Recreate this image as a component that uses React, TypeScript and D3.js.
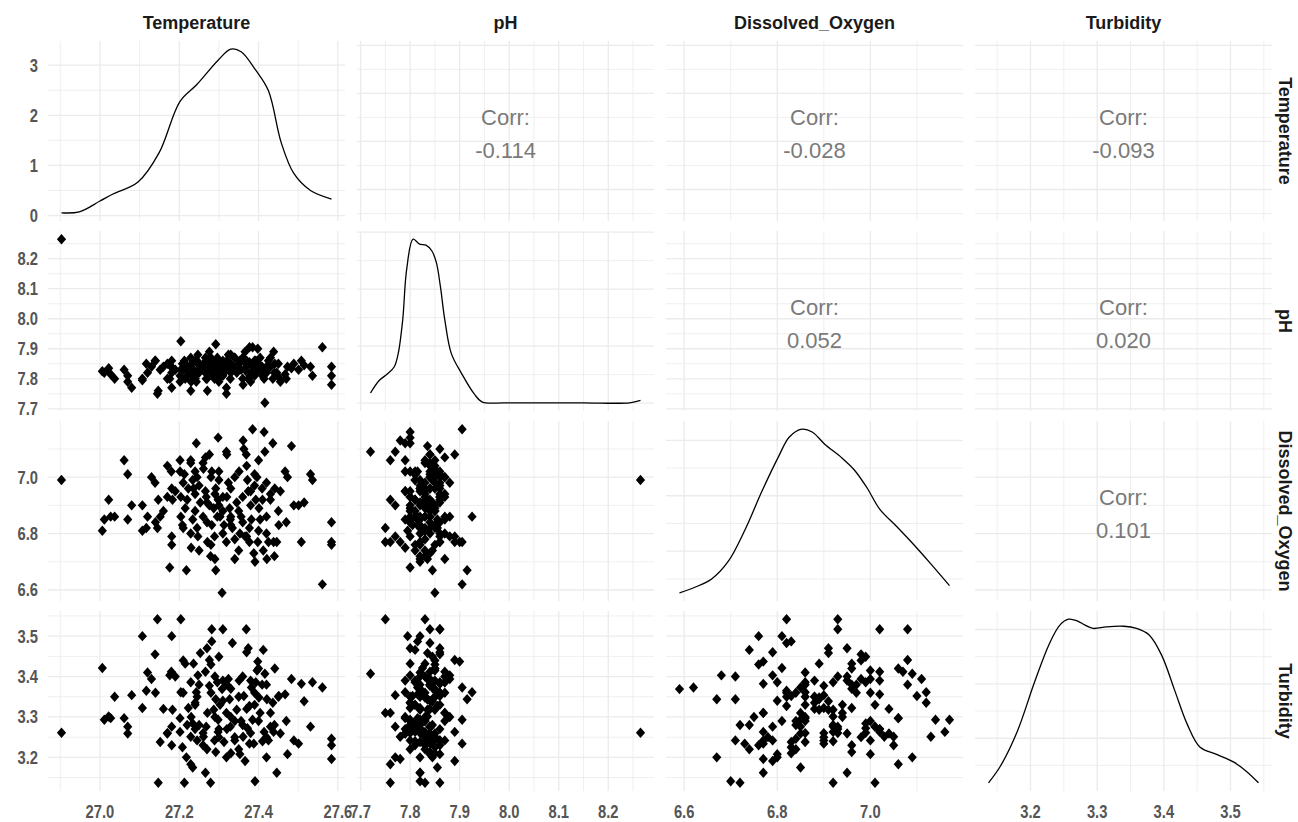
import React, { useRef, useEffect } from 'react';
import * as d3 from 'd3';

const variables = ['Temperature', 'pH', 'Dissolved_Oxygen', 'Turbidity'];

const temperature = [
  26.903, 27.006, 27.011, 27.022, 27.027, 27.037, 27.061, 27.07, 27.07, 27.08,
  27.107, 27.107, 27.117, 27.13, 27.139, 27.145, 27.147, 27.152, 27.17, 27.176,
  27.18, 27.181, 27.181, 27.181, 27.183, 27.202, 27.202, 27.204, 27.204, 27.208,
  27.213, 27.215, 27.218, 27.223, 27.229, 27.229, 27.229, 27.234, 27.234, 27.236,
  27.24, 27.243, 27.245, 27.245, 27.247, 27.25, 27.253, 27.261, 27.266, 27.266,
  27.268, 27.271, 27.276, 27.276, 27.279, 27.282, 27.282, 27.287, 27.289, 27.292,
  27.292, 27.296, 27.298, 27.298, 27.3, 27.303, 27.308, 27.31, 27.313, 27.319,
  27.319, 27.324, 27.327, 27.329, 27.334, 27.34, 27.345, 27.351, 27.353, 27.356,
  27.361, 27.363, 27.366, 27.369, 27.372, 27.374, 27.377, 27.377, 27.382, 27.385,
  27.388, 27.391, 27.393, 27.396, 27.398, 27.401, 27.404, 27.409, 27.412, 27.414,
  27.416, 27.42, 27.421, 27.425, 27.43, 27.436, 27.438, 27.441, 27.446, 27.451,
  27.455, 27.467, 27.473, 27.483, 27.489, 27.501, 27.508, 27.515, 27.531, 27.536,
  27.561, 27.584, 27.584, 27.584,
  27.19, 27.21, 27.22, 27.24, 27.25, 27.26, 27.27, 27.28, 27.29, 27.3,
  27.31, 27.31, 27.32, 27.33, 27.33, 27.34, 27.35, 27.36, 27.36, 27.37,
  27.38, 27.39, 27.4, 27.4, 27.41, 27.42, 27.43, 27.44, 27.45, 27.47,
  27.16, 27.17, 27.14, 27.12, 27.23, 27.26, 27.28, 27.3, 27.32, 27.35,
  27.37, 27.39, 27.34, 27.27, 27.21, 27.24, 27.29, 27.33, 27.38, 27.42
];

const ph = [
  8.265,
  7.825, 7.82, 7.835, 7.815, 7.8,
  7.83, 7.81, 7.79, 7.77,
  7.8, 7.795, 7.85, 7.84, 7.86, 7.75, 7.76, 7.83,
  7.85, 7.8, 7.84, 7.77, 7.82, 7.86, 7.835,
  7.79, 7.81, 7.83, 7.925, 7.85, 7.86, 7.8, 7.845, 7.82,
  7.76, 7.84, 7.87, 7.81, 7.855, 7.83, 7.8, 7.79, 7.86, 7.82, 7.88, 7.845, 7.835,
  7.85, 7.87, 7.82, 7.8, 7.76, 7.89, 7.84, 7.83, 7.86, 7.815, 7.85, 7.8, 7.84, 7.915, 7.87,
  7.8, 7.83, 7.845, 7.81, 7.85, 7.86, 7.82, 7.77, 7.75, 7.88, 7.835, 7.8, 7.84,
  7.87, 7.82, 7.85, 7.86, 7.83, 7.78, 7.86, 7.89, 7.84, 7.82, 7.8, 7.855, 7.905, 7.815, 7.905,
  7.84, 7.82, 7.86, 7.85, 7.9, 7.83, 7.87, 7.84, 7.81, 7.8, 7.72, 7.82, 7.835, 7.86, 7.84,
  7.8, 7.89, 7.85, 7.82, 7.805, 7.79, 7.815, 7.84,
  7.835, 7.85, 7.83, 7.86, 7.845, 7.84, 7.81,
  7.905,
  7.84, 7.81, 7.78,
  7.83, 7.85, 7.81, 7.86, 7.82, 7.84, 7.8, 7.87, 7.83, 7.85,
  7.81, 7.84, 7.86, 7.82, 7.88, 7.83, 7.85, 7.8, 7.87, 7.84,
  7.82, 7.86, 7.83, 7.85, 7.81, 7.84, 7.87, 7.82, 7.85, 7.8,
  7.84, 7.8, 7.86, 7.82, 7.79, 7.83, 7.85, 7.79, 7.84, 7.83,
  7.86, 7.81, 7.87, 7.86, 7.83, 7.8, 7.82, 7.85, 7.79, 7.83
];

const dissolvedOxygen = [
  6.99, 6.81, 6.85, 6.92, 6.86, 6.86, 7.06, 7.01, 6.85, 6.9,
  6.9, 6.81, 6.82, 7.0, 6.98, 6.82, 6.92, 6.86, 7.04, 6.68,
  7.02, 6.79, 6.76, 6.96, 6.92, 7.06, 7.02, 6.93, 6.86, 6.83,
  7.01, 6.89, 6.67, 6.96, 7.06, 7.05, 6.8, 6.99, 6.85, 6.96,
  6.88, 7.12, 7.0, 6.82, 6.79, 6.74, 6.91, 7.03, 7.07, 6.95,
  6.93, 6.77, 7.08, 6.9, 6.72, 7.02, 6.83, 6.89, 6.79, 6.96,
  6.67, 6.86, 7.14, 6.92, 6.99, 6.86, 6.59, 6.93, 6.83, 7.09,
  6.77, 6.98, 6.89, 6.85, 6.82, 6.71, 6.91, 7.02, 6.8, 6.86,
  7.13, 7.1, 6.79, 7.08, 6.99, 6.95, 6.82, 6.77, 6.85, 7.17,
  6.73, 6.7, 6.92, 7.0, 6.77, 6.89, 6.85, 6.96, 6.74, 7.16,
  7.09, 6.8, 6.71, 6.77, 6.92, 7.12, 6.77, 6.96, 6.77, 6.83,
  6.95, 7.02, 7.0, 7.11, 6.9, 6.9, 6.77, 6.91, 7.01, 6.99,
  6.62, 6.84, 6.76, 6.77,
  6.95, 6.98, 6.92, 6.94, 6.97, 6.86, 6.84, 7.0, 6.94, 6.9,
  6.88, 6.8, 6.93, 6.96, 6.86, 6.78, 6.88, 6.84, 6.93, 7.04,
  6.9, 6.97, 6.81, 7.06, 6.92, 6.86, 6.94, 6.72, 6.88, 6.84,
  6.88, 6.93, 6.84, 6.86, 6.75, 7.05, 6.76, 7.02, 7.08, 6.74,
  6.79, 7.01, 7.0, 6.91, 6.82, 7.02, 6.71, 6.83, 6.95, 6.98
];

const turbidity = [
  3.261, 3.421, 3.293, 3.301, 3.297, 3.35, 3.297, 3.276, 3.259, 3.354,
  3.322, 3.5, 3.365, 3.394, 3.455, 3.542, 3.137, 3.238, 3.259, 3.403,
  3.412, 3.276, 3.5, 3.23, 3.318, 3.297, 3.263, 3.542, 3.361, 3.225,
  3.137, 3.432, 3.2, 3.322, 3.183, 3.251, 3.386, 3.284, 3.175, 3.432,
  3.335, 3.361, 3.242, 3.35, 3.403, 3.28, 3.458, 3.251, 3.412, 3.162,
  3.276, 3.31, 3.441, 3.377, 3.137, 3.517, 3.487, 3.318, 3.242, 3.213,
  3.344, 3.386, 3.293, 3.263, 3.449, 3.33, 3.369, 3.517, 3.238, 3.2,
  3.31, 3.394, 3.344, 3.276, 3.483, 3.242, 3.318, 3.39, 3.208, 3.29,
  3.251, 3.352, 3.191, 3.517, 3.272, 3.47, 3.327, 3.234, 3.373, 3.293,
  3.234, 3.141, 3.386, 3.415, 3.437, 3.348, 3.31, 3.38, 3.466, 3.263,
  3.407, 3.2, 3.344, 3.242, 3.276, 3.335, 3.263, 3.42, 3.162, 3.352,
  3.259, 3.356, 3.208, 3.394, 3.242, 3.234, 3.382, 3.339, 3.276, 3.386,
  3.373, 3.246, 3.23, 3.196,
  3.4, 3.44, 3.28, 3.33, 3.38, 3.26, 3.22, 3.36, 3.3, 3.25,
  3.39, 3.34, 3.27, 3.37, 3.3, 3.25, 3.35, 3.28, 3.4, 3.32,
  3.26, 3.36, 3.29, 3.42, 3.24, 3.38, 3.31, 3.28, 3.35, 3.29,
  3.32, 3.26, 3.36, 3.41, 3.3, 3.23, 3.43, 3.27, 3.38, 3.22,
  3.46, 3.33, 3.29, 3.47, 3.36, 3.27, 3.4, 3.21, 3.39, 3.25
];

// diagonal density curves
const tempDensityX = [26.903, 26.948, 27.0, 27.033, 27.096, 27.149, 27.202, 27.245, 27.298, 27.33, 27.356, 27.393, 27.425, 27.457, 27.489, 27.531, 27.584];
const tempDensityY = [0.055, 0.075, 0.29, 0.43, 0.67, 1.25, 2.28, 2.62, 3.1, 3.32, 3.27, 2.9, 2.49, 1.46, 0.84, 0.5, 0.33];

const phDensityX = [7.72, 7.738, 7.755, 7.768, 7.776, 7.785, 7.793, 7.806, 7.819, 7.832, 7.844, 7.853, 7.861, 7.87, 7.883, 7.904, 7.929, 7.946, 7.989, 8.05, 8.15, 8.243, 8.265];
const phDensityY = [0.71, 1.6, 2.07, 2.55, 3.49, 5.84, 9.38, 11.5, 11.15, 11.08, 10.67, 9.85, 8.2, 5.84, 3.49, 2.07, 0.66, 0.07, 0.02, 0.02, 0.02, 0.02, 0.19];

const doDensityX = [6.59, 6.623, 6.659, 6.695, 6.731, 6.767, 6.803, 6.826, 6.853, 6.875, 6.902, 6.939, 6.966, 6.993, 7.02, 7.056, 7.092, 7.128, 7.17];
const doDensityY = [0.25, 0.35, 0.5, 0.82, 1.39, 2.08, 2.71, 3.06, 3.2, 3.15, 2.93, 2.68, 2.46, 2.14, 1.76, 1.45, 1.13, 0.79, 0.38];

const turbDensityX = [3.137, 3.155, 3.18, 3.206, 3.228, 3.244, 3.257, 3.27, 3.282, 3.294, 3.314, 3.34, 3.359, 3.378, 3.397, 3.416, 3.435, 3.454, 3.48, 3.505, 3.524, 3.542];
const turbDensityY = [0.18, 0.49, 1.12, 2.03, 2.73, 3.08, 3.19, 3.16, 3.08, 3.02, 3.05, 3.06, 3.02, 2.9, 2.52, 1.89, 1.26, 0.84, 0.7, 0.56, 0.39, 0.18];

// upper-triangle correlation labels
const corrRows = [0, 0, 0, 1, 1, 2];
const corrCols = [1, 2, 3, 2, 3, 3];
const corrLabels = ['-0.114', '-0.028', '-0.093', '0.052', '0.020', '0.101'];

// grid break steps per variable, and for the diagonal densities
const breakSteps = [0.2, 0.1, 0.2, 0.1];
const densityBreakSteps = [1, 4, 1, 1];

const PairsPlot = () => {
  const d3Container = useRef<SVGSVGElement>(null);

  useEffect(() => {
    if (!d3Container.current) return;
    const svg = d3.select(d3Container.current);
    svg.selectAll('*').remove();

    const data = [temperature, ph, dissolvedOxygen, turbidity];
    const densities = [
      [tempDensityX, tempDensityY],
      [phDensityX, phDensityY],
      [doDensityX, doDensityY],
      [turbDensityX, turbDensityY]
    ];

    const left = 48;
    const top = 41;
    const panelW = 297;
    const panelH = 180;
    const gapX = 12;
    const gapY = 10;
    const colX = (i: number) => left + i * (panelW + gapX);
    const rowY = (j: number) => top + j * (panelH + gapY);
    const font = '"Liberation Sans", Arial, sans-serif';

    const expand = (ext: number[]) => {
      const pad = (ext[1] - ext[0]) * 0.05;
      return [ext[0] - pad, ext[1] + pad];
    };

    const xScales = data.map((v, i) =>
      d3.scaleLinear().domain(expand(d3.extent(v) as number[])).range([colX(i), colX(i) + panelW])
    );
    const yScales = data.map((v, j) =>
      d3.scaleLinear().domain(expand(d3.extent(v) as number[])).range([rowY(j) + panelH, rowY(j)])
    );
    const densityY = densities.map((d, j) =>
      d3.scaleLinear().domain(expand(d3.extent(d[1]) as number[])).range([rowY(j) + panelH, rowY(j)])
    );

    const breaks = (scale: d3.ScaleLinear<number, number>, step: number) => {
      const [d0, d1] = scale.domain();
      const major = d3.range(Math.ceil(d0 / step - 1e-9) * step, d1 + 1e-9, step);
      const minor: number[] = [];
      for (let v = major[0] - step / 2; v <= d1; v += step) {
        if (v >= d0) minor.push(v);
      }
      return { major, minor };
    };

    // panel grids
    const grid = svg.append('g');
    for (let r = 0; r < 4; r++) {
      for (let c = 0; c < 4; c++) {
        const xs = xScales[c];
        const ys = r === c ? densityY[r] : yScales[r];
        const xb = breaks(xs, breakSteps[c]);
        const yb = breaks(ys, r === c ? densityBreakSteps[r] : breakSteps[r]);
        const g = grid.append('g');
        [
          [xb.minor, 0.8],
          [xb.major, 1.3]
        ].forEach(([vals, w]) => {
          g.selectAll(null)
            .data(vals as number[])
            .enter()
            .append('line')
            .attr('x1', (d) => xs(d))
            .attr('x2', (d) => xs(d))
            .attr('y1', rowY(r))
            .attr('y2', rowY(r) + panelH)
            .attr('stroke', '#ebebeb')
            .attr('stroke-width', w as number);
        });
        [
          [yb.minor, 0.8],
          [yb.major, 1.3]
        ].forEach(([vals, w]) => {
          g.selectAll(null)
            .data(vals as number[])
            .enter()
            .append('line')
            .attr('x1', colX(c))
            .attr('x2', colX(c) + panelW)
            .attr('y1', (d) => ys(d))
            .attr('y2', (d) => ys(d))
            .attr('stroke', '#ebebeb')
            .attr('stroke-width', w as number);
        });
      }
    }

    // diagonal densities
    for (let i = 0; i < 4; i++) {
      const [dx, dy] = densities[i];
      const line = d3
        .line<number>()
        .x((_, k) => xScales[i](dx[k]))
        .y((d) => densityY[i](d))
        .curve(d3.curveCatmullRom);
      svg
        .append('path')
        .attr('d', line(dy))
        .attr('fill', 'none')
        .attr('stroke', '#000')
        .attr('stroke-width', 1.3);
    }

    // lower scatter panels
    const diamond = 'M0,-5.2L4.6,0L0,5.2L-4.6,0Z';
    for (let r = 1; r < 4; r++) {
      for (let c = 0; c < r; c++) {
        svg
          .append('g')
          .selectAll('path')
          .data(d3.range(temperature.length))
          .enter()
          .append('path')
          .attr('d', diamond)
          .attr('transform', (k) => `translate(${xScales[c](data[c][k])},${yScales[r](data[r][k])})`)
          .attr('fill', '#000');
      }
    }

    // upper correlation labels
    corrLabels.forEach((label, k) => {
      const cx = colX(corrCols[k]) + panelW / 2;
      const cy = rowY(corrRows[k]) + panelH / 2;
      const t = svg
        .append('text')
        .attr('text-anchor', 'middle')
        .attr('font-family', font)
        .attr('font-size', 22)
        .attr('fill', '#7a7a7a');
      t.append('tspan').attr('x', cx).attr('y', cy - 6).text('Corr:');
      t.append('tspan').attr('x', cx).attr('y', cy + 27).text(label);
    });

    // axis tick labels
    const fmt = (step: number) => (step >= 1 ? d3.format('d') : d3.format('.1f'));
    const tickText = (x: number, y: number, text: string, anchor: string) =>
      svg
        .append('text')
        .attr('transform', `translate(${x},${y}) scale(0.82,1)`)
        .attr('text-anchor', anchor)
        .attr('font-family', font)
        .attr('font-weight', 'bold')
        .attr('font-size', 18)
        .attr('fill', '#555')
        .text(text);

    for (let c = 0; c < 4; c++) {
      breaks(xScales[c], breakSteps[c]).major.forEach((v) => {
        tickText(xScales[c](v), 818, fmt(breakSteps[c])(v), 'middle');
      });
    }
    breaks(densityY[0], densityBreakSteps[0]).major.forEach((v) => {
      tickText(38, densityY[0](v) + 6.5, fmt(1)(v), 'end');
    });
    for (let r = 1; r < 4; r++) {
      breaks(yScales[r], breakSteps[r]).major.forEach((v) => {
        tickText(38, yScales[r](v) + 6.5, fmt(breakSteps[r])(v), 'end');
      });
    }

    // strip labels
    variables.forEach((name, i) => {
      svg
        .append('text')
        .attr('x', colX(i) + panelW / 2)
        .attr('y', 29)
        .attr('text-anchor', 'middle')
        .attr('font-family', font)
        .attr('font-weight', 'bold')
        .attr('font-size', 18)
        .attr('fill', '#1a1a1a')
        .text(name);
      svg
        .append('text')
        .attr('transform', `translate(1279,${rowY(i) + panelH / 2}) rotate(90)`)
        .attr('text-anchor', 'middle')
        .attr('font-family', font)
        .attr('font-weight', 'bold')
        .attr('font-size', 18)
        .attr('fill', '#1a1a1a')
        .text(name);
    });
  }, []);

  return (
    <svg
      ref={d3Container}
      width={1298}
      height={822}
      style={{ position: 'absolute', left: 0, top: 0, background: '#fff' }}
    />
  );
};

export default function App() {
  return <PairsPlot />;
}
